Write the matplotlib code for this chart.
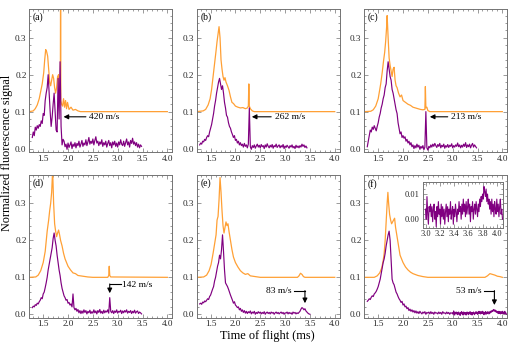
import numpy as np
import matplotlib
matplotlib.use("Agg")
import matplotlib.pyplot as plt
from matplotlib.ticker import MultipleLocator, FormatStrFormatter

plt.rcParams['font.family'] = ['Liberation Serif', 'DejaVu Serif']

ORANGE = '#ffa035'
PURPLE = '#800080'

# orange traces: (time, signal) pairs
orange_a = [(1.22, 0.100), (1.30, 0.102), (1.34, 0.108), (1.38, 0.118), (1.42, 0.135), (1.45, 0.155),
            (1.48, 0.175), (1.51, 0.205), (1.53, 0.240), (1.55, 0.268), (1.57, 0.262), (1.59, 0.250),
            (1.61, 0.215), (1.63, 0.180), (1.65, 0.170), (1.67, 0.185), (1.69, 0.200), (1.71, 0.190),
            (1.73, 0.165), (1.75, 0.150), (1.77, 0.165), (1.79, 0.195), (1.81, 0.200), (1.83, 0.125),
            (1.845, 0.130), (1.85, 0.500), (1.855, 0.130), (1.87, 0.120), (1.89, 0.115), (1.91, 0.135),
            (1.93, 0.112), (1.95, 0.130), (1.97, 0.108), (1.99, 0.125), (2.02, 0.106), (2.06, 0.112),
            (2.10, 0.104), (2.15, 0.106), (2.20, 0.102), (2.25, 0.100), (4.00, 0.100)]
orange_b = [(1.22, 0.100), (1.35, 0.102), (1.40, 0.106), (1.45, 0.118), (1.49, 0.135), (1.52, 0.160),
            (1.55, 0.195), (1.58, 0.230), (1.61, 0.265), (1.63, 0.290), (1.65, 0.310), (1.67, 0.330),
            (1.69, 0.300), (1.71, 0.240), (1.73, 0.215), (1.75, 0.195), (1.77, 0.185), (1.79, 0.192),
            (1.81, 0.180), (1.84, 0.170), (1.87, 0.158), (1.90, 0.140), (1.93, 0.125), (1.96, 0.122),
            (2.00, 0.115), (2.05, 0.112), (2.10, 0.110), (2.15, 0.111), (2.20, 0.108), (2.24, 0.110),
            (2.26, 0.115), (2.27, 0.175), (2.28, 0.115), (2.30, 0.108), (2.34, 0.102), (2.38, 0.100),
            (4.00, 0.100)]
orange_c = [(1.22, 0.100), (1.35, 0.101), (1.40, 0.105), (1.45, 0.115), (1.50, 0.135), (1.55, 0.175),
            (1.58, 0.205), (1.61, 0.240), (1.63, 0.260), (1.65, 0.290), (1.67, 0.330), (1.68, 0.360),
            (1.70, 0.300), (1.72, 0.245), (1.74, 0.225), (1.76, 0.210), (1.78, 0.195), (1.80, 0.215),
            (1.82, 0.220), (1.84, 0.185), (1.86, 0.170), (1.88, 0.165), (1.91, 0.150), (1.94, 0.140),
            (1.97, 0.145), (2.00, 0.130), (2.05, 0.125), (2.10, 0.120), (2.15, 0.117), (2.20, 0.112),
            (2.25, 0.110), (2.30, 0.108), (2.35, 0.106), (2.40, 0.105), (2.44, 0.106), (2.45, 0.168),
            (2.46, 0.110), (2.48, 0.112), (2.50, 0.103), (2.54, 0.100), (4.00, 0.100)]
orange_d = [(1.22, 0.100), (1.35, 0.101), (1.40, 0.106), (1.45, 0.118), (1.50, 0.140), (1.54, 0.170),
            (1.58, 0.225), (1.61, 0.255), (1.63, 0.280), (1.65, 0.300), (1.67, 0.330), (1.69, 0.390),
            (1.71, 0.300), (1.73, 0.245), (1.75, 0.225), (1.77, 0.210), (1.79, 0.220), (1.81, 0.228),
            (1.83, 0.215), (1.85, 0.200), (1.88, 0.185), (1.91, 0.165), (1.94, 0.150), (1.97, 0.140),
            (2.00, 0.130), (2.05, 0.120), (2.10, 0.112), (2.15, 0.110), (2.20, 0.105), (2.30, 0.103),
            (2.40, 0.101), (2.50, 0.100), (2.80, 0.100), (2.82, 0.105), (2.83, 0.130), (2.84, 0.105),
            (2.86, 0.101), (4.00, 0.100)]
orange_e = [(1.22, 0.100), (1.36, 0.101), (1.42, 0.106), (1.47, 0.118), (1.51, 0.135), (1.55, 0.165),
            (1.58, 0.190), (1.61, 0.215), (1.63, 0.255), (1.65, 0.265), (1.67, 0.310), (1.69, 0.370),
            (1.71, 0.330), (1.73, 0.280), (1.75, 0.240), (1.77, 0.220), (1.79, 0.235), (1.81, 0.250),
            (1.83, 0.240), (1.85, 0.245), (1.87, 0.225), (1.90, 0.200), (1.93, 0.175), (1.96, 0.155),
            (2.00, 0.140), (2.05, 0.128), (2.10, 0.118), (2.15, 0.112), (2.20, 0.108), (2.25, 0.110),
            (2.30, 0.104), (2.40, 0.102), (2.50, 0.100), (3.25, 0.100), (3.28, 0.104), (3.31, 0.111),
            (3.34, 0.108), (3.37, 0.102), (3.40, 0.100), (4.00, 0.100)]
orange_f = [(1.22, 0.100), (1.42, 0.100), (1.48, 0.104), (1.53, 0.112), (1.57, 0.125), (1.60, 0.145),
            (1.62, 0.165), (1.64, 0.200), (1.66, 0.250), (1.68, 0.300), (1.695, 0.330), (1.71, 0.300),
            (1.73, 0.270), (1.75, 0.255), (1.77, 0.245), (1.79, 0.250), (1.81, 0.255), (1.83, 0.260),
            (1.85, 0.235), (1.88, 0.210), (1.91, 0.185), (1.94, 0.160), (1.97, 0.150), (2.00, 0.140),
            (2.05, 0.128), (2.10, 0.120), (2.15, 0.114), (2.20, 0.110), (2.30, 0.105), (2.40, 0.102),
            (2.50, 0.100), (3.65, 0.100), (3.70, 0.104), (3.75, 0.110), (3.80, 0.108), (3.85, 0.106),
            (3.90, 0.103), (3.95, 0.102), (4.00, 0.100)]

# purple traces: samples every 0.02 ms starting at 1.28 ms
purple_start = 1.28
purple_step = 0.02
purple_a = [0.030, 0.045, 0.035, 0.058, 0.050, 0.062, 0.055, 0.065, 0.060, 0.075,
            0.068, 0.095, 0.090, 0.130, 0.150, 0.165, 0.200, 0.150, 0.100, 0.060,
            0.085, 0.120, 0.150, 0.100, 0.050, 0.045, 0.190, 0.080, 0.235, 0.060,
            0.010, 0.025, 0.020, 0.005, 0.012, -0.002, 0.015, 0.003, 0.010, 0.018,
            0.000, 0.012, 0.006, 0.016, 0.002, 0.014, 0.008, 0.020, 0.004, 0.012,
            0.022, 0.006, 0.015, 0.010, 0.024, 0.008, 0.018, 0.030, 0.012, 0.020,
            0.014, 0.026, 0.010, 0.022, 0.032, 0.015, 0.020, 0.008, 0.018, 0.012,
            0.024, 0.006, 0.016, 0.010, 0.020, 0.004, 0.014, 0.022, 0.008, 0.016,
            0.002, 0.018, 0.010, 0.020, 0.006, 0.015, 0.004, 0.018, 0.010, 0.024,
            0.012, 0.008, 0.020, 0.006, 0.016, 0.026, 0.010, 0.018, 0.004, 0.022,
            0.014, 0.028, 0.012, 0.018, 0.008, 0.016, 0.004, 0.012, 0.002, 0.010,
            0.006]
purple_b = [0.010, 0.015, 0.012, 0.020, 0.018, 0.025, 0.022, 0.030, 0.035, 0.032,
            0.045, 0.055, 0.065, 0.080, 0.095, 0.115, 0.130, 0.150, 0.165, 0.180,
            0.190, 0.175, 0.160, 0.170, 0.150, 0.125, 0.110, 0.090, 0.085, 0.070,
            0.060, 0.055, 0.045, 0.038, 0.030, 0.035, 0.022, 0.025, 0.015, 0.020,
            0.010, 0.016, 0.008, 0.012, 0.004, 0.014, 0.006, 0.010, 0.002, 0.012,
            0.110, 0.005, -0.002, 0.008, 0.003, 0.010, 0.001, 0.007, 0.012, 0.004,
            0.009, 0.002, 0.011, 0.005, 0.008, 0.000, 0.010, 0.004, 0.013, 0.006,
            0.002, 0.009, 0.004, 0.011, 0.001, 0.008, 0.005, 0.012, 0.003, 0.007,
            0.010, 0.002, 0.008, 0.004, 0.011, 0.000, 0.007, 0.003, 0.009, 0.005,
            0.001, 0.008, 0.004, 0.010, 0.002, 0.006, 0.000, 0.009, 0.003, 0.007,
            0.002, 0.008, 0.004, 0.012, 0.006, 0.010, 0.003, 0.007, 0.002]
purple_c = [0.005, 0.020, 0.035, 0.050, 0.045, 0.058, 0.052, 0.062, 0.055, 0.048,
            0.060, 0.070, 0.085, 0.095, 0.110, 0.120, 0.135, 0.145, 0.165, 0.175,
            0.210, 0.235, 0.215, 0.195, 0.185, 0.160, 0.150, 0.135, 0.120, 0.105,
            0.095, 0.070, 0.055, 0.040, 0.045, 0.030, 0.035, 0.028, 0.032, 0.020,
            0.025, 0.015, 0.020, 0.010, 0.016, 0.005, 0.010, 0.000, 0.008, 0.002,
            0.012, 0.004, 0.009, -0.002, 0.006, 0.001, 0.008, -0.003, 0.004, 0.100,
            0.002, -0.004, 0.006, 0.002, 0.010, 0.004, 0.012, 0.006, 0.014, 0.008,
            0.003, 0.011, 0.006, 0.014, 0.002, 0.009, 0.005, 0.012, 0.001, 0.008,
            0.004, 0.011, 0.003, 0.009, 0.006, 0.013, 0.002, 0.008, 0.004, 0.010,
            0.006, 0.015, 0.005, 0.010, 0.002, 0.009, 0.004, 0.012, 0.006, 0.016,
            0.003, 0.010, 0.005, 0.012, 0.002, 0.009, 0.014, 0.004, 0.010, 0.006,
            0.002]
purple_d = [0.018, 0.022, 0.020, 0.026, 0.024, 0.030, 0.028, 0.034, 0.038, 0.045,
            0.042, 0.055, 0.060, 0.072, 0.085, 0.100, 0.120, 0.135, 0.150, 0.165,
            0.180, 0.205, 0.220, 0.200, 0.185, 0.160, 0.140, 0.120, 0.105, 0.085,
            0.070, 0.060, 0.050, 0.045, 0.038, 0.040, 0.030, 0.032, 0.025, 0.028,
            0.020, 0.055, 0.018, 0.012, 0.016, 0.008, 0.013, 0.004, 0.010, 0.002,
            0.009, 0.003, 0.012, 0.005, 0.010, 0.001, 0.008, 0.004, 0.011, 0.002,
            0.007, 0.003, 0.012, 0.004, 0.009, 0.001, 0.010, 0.005, 0.013, 0.003,
            0.008, 0.002, 0.011, 0.004, 0.009, 0.006, 0.012, 0.003, 0.045, 0.008,
            0.004, 0.010, 0.002, 0.009, 0.005, 0.012, 0.003, 0.008, 0.006, 0.011,
            0.002, 0.009, 0.004, 0.010, 0.006, 0.012, 0.003, 0.008, 0.005, 0.010,
            0.002, 0.008, 0.004, 0.011, 0.003, 0.007, 0.009, 0.002, 0.006, 0.004,
            0.001]
purple_e = [0.028, 0.030, 0.027, 0.033, 0.031, 0.036, 0.034, 0.038, 0.042, 0.040,
            0.048, 0.052, 0.060, 0.068, 0.075, 0.090, 0.100, 0.115, 0.130, 0.140,
            0.160, 0.150, 0.175, 0.215, 0.170, 0.120, 0.085, 0.080, 0.075, 0.068,
            0.060, 0.052, 0.045, 0.038, 0.030, 0.034, 0.025, 0.022, 0.018, 0.020,
            0.012, 0.016, 0.008, 0.012, 0.005, 0.010, 0.003, 0.008, 0.002, 0.007,
            0.004, 0.009, 0.001, 0.006, 0.003, 0.008, 0.000, 0.005, 0.002, 0.007,
            0.003, 0.006, 0.001, 0.005, 0.002, 0.007, 0.000, 0.004, 0.006, 0.002,
            0.005, 0.001, 0.006, 0.003, 0.005, 0.000, 0.004, 0.006, 0.002, 0.005,
            0.001, 0.004, 0.006, 0.002, 0.005, 0.000, 0.004, 0.003, 0.006, 0.001,
            0.005, 0.002, 0.004, 0.000, 0.006, 0.003, 0.005, 0.001, 0.004, 0.002,
            0.005, 0.008, 0.014, 0.018, 0.016, 0.012, 0.015, 0.009, 0.006, 0.003,
            0.001, 0.000]
purple_f = [0.035, 0.038, 0.042, 0.040, 0.046, 0.050, 0.048, 0.055, 0.058, 0.062,
            0.068, 0.075, 0.085, 0.095, 0.110, 0.125, 0.140, 0.150, 0.165, 0.185,
            0.200, 0.215, 0.225, 0.200, 0.150, 0.095, 0.085, 0.080, 0.070, 0.060,
            0.055, 0.048, 0.042, 0.038, 0.032, 0.035, 0.025, 0.028, 0.020, 0.022,
            0.015, 0.018, 0.010, 0.014, 0.008, 0.012, 0.006, 0.010, 0.004, 0.009,
            0.003, 0.007, 0.002, 0.008, 0.004, 0.001, 0.006, 0.003, 0.007, 0.000,
            0.005, 0.003, 0.006, 0.001, 0.007, 0.002, 0.005, 0.000, 0.006, 0.003,
            0.004, 0.001, 0.006, 0.002, 0.005, 0.000, 0.007, 0.003, 0.004, 0.001,
            0.006, 0.002, 0.005, 0.000, 0.004, 0.003]
# late part of trace (f), finer samples every 0.01 ms from 3.00 ms (also shown in the inset)
tail_start = 3.00
tail_step = 0.01
purple_f_tail = [0.004, 0.000, 0.009, 0.002, -0.002, 0.005, 0.003, 0.006, 0.001, 0.005,
                 -0.001, 0.004, 0.006, 0.000, 0.003, -0.003, 0.005, 0.001, 0.007, 0.002,
                 0.004, -0.002, 0.006, 0.001, 0.005, 0.000, 0.004, -0.002, 0.003, 0.006,
                 0.001, 0.005, -0.001, 0.004, 0.002, 0.007, 0.000, 0.003, 0.005, -0.002,
                 0.004, 0.001, 0.006, 0.003, -0.001, 0.004, 0.002, 0.007, 0.003, 0.005,
                 0.000, 0.006, 0.002, 0.008, 0.003, 0.006, 0.001, 0.007, 0.002, 0.005,
                 0.008, 0.002, 0.006, -0.001, 0.005, 0.003, 0.007, 0.000, 0.004, 0.006,
                 0.002, 0.007, 0.004, 0.001, 0.006, 0.003, 0.008, 0.005, 0.009, 0.007,
                 0.010, 0.008, 0.013, 0.011, 0.009, 0.012, 0.007, 0.010, 0.006, 0.008,
                 0.004, 0.007, 0.002, 0.008, 0.003, 0.006, 0.001, 0.007, 0.004, 0.002,
                 0.008, 0.003, 0.006, 0.001, 0.005, 0.008, 0.002, 0.004, 0.000]

labels = ['(a)', '(b)', '(c)', '(d)', '(e)', '(f)']
speeds = ['420 m/s', '262 m/s', '213 m/s', '142 m/s', '83 m/s', '53 m/s']

W, H = 512, 347
lefts = [29.3, 196.7, 364.3]
tops = [9.3, 175.0]
pw, ph = 143.0, 142.6
ANN = 6.8


def style_axes(ax, ysteps, fmt_y, fmt_x, size):
    for s in ax.spines.values():
        s.set_color('0.45')
        s.set_linewidth(0.7)
    ax.tick_params(which='both', direction='in', top=True, right=True, colors='0.45',
                   labelcolor='0.15', labelsize=size, width=0.5, pad=2)
    ax.tick_params(which='major', length=3)
    ax.tick_params(which='minor', length=1.5)
    ax.yaxis.set_major_locator(MultipleLocator(ysteps[0]))
    ax.yaxis.set_minor_locator(MultipleLocator(ysteps[1]))
    ax.yaxis.set_major_formatter(FormatStrFormatter(fmt_y))
    ax.xaxis.set_major_formatter(FormatStrFormatter(fmt_x))


def draw_panel(i, orange, purple):
    row, col = divmod(i, 3)
    ax = fig.add_axes([lefts[col] / W, 1 - (tops[row] + ph) / H, pw / W, ph / H])
    ot, ov = zip(*orange)
    ax.plot(ot, ov, color=ORANGE, lw=0.9)
    pt = purple_start + purple_step * np.arange(len(purple))
    if i == 5:
        pt = np.concatenate([pt, tail_start + tail_step * np.arange(len(purple_f_tail))])
        purple = list(purple) + purple_f_tail
    ax.plot(pt, purple, color=PURPLE, lw=0.85)
    ax.set_xlim(1.22, 4.10)
    ax.set_ylim(-0.009, 0.377)
    ax.xaxis.set_major_locator(MultipleLocator(0.5))
    ax.xaxis.set_minor_locator(MultipleLocator(0.1))
    style_axes(ax, (0.1, 0.02), '%.1f', '%.1f', 6.6)
    ax.text(0.025, 0.975, labels[i], transform=ax.transAxes, ha='left', va='top', fontsize=7)
    return ax


fig = plt.figure(figsize=(W / 100, H / 100), dpi=100)
axes = [draw_panel(i, o, p) for i, (o, p) in enumerate(
    zip([orange_a, orange_b, orange_c, orange_d, orange_e, orange_f],
        [purple_a, purple_b, purple_c, purple_d, purple_e, purple_f]))]

arrow = dict(arrowstyle='-|>', color='black', lw=0.8, mutation_scale=7, shrinkA=0, shrinkB=0)

# top row: horizontal arrows pointing at the sharp peak
for ax, name, tip, tail in zip(axes[:3], speeds[:3], [1.91, 2.33, 2.54], [2.36, 2.72, 2.90]):
    ax.annotate('', xy=(tip, 0.086), xytext=(tail, 0.086), arrowprops=arrow)
    ax.text(tail + 0.07, 0.086, name, ha='left', va='center', fontsize=ANN)

# bottom row: elbow arrows pointing down onto the slow peak
ax = axes[3]
ax.plot([3.06, 2.84], [0.082, 0.082], color='black', lw=0.8)
ax.annotate('', xy=(2.84, 0.057), xytext=(2.84, 0.082), arrowprops=arrow)
ax.text(3.09, 0.080, speeds[3], ha='left', va='center', fontsize=ANN)

ax = axes[4]
ax.plot([3.17, 3.40], [0.064, 0.064], color='black', lw=0.8)
ax.annotate('', xy=(3.40, 0.030), xytext=(3.40, 0.064), arrowprops=arrow)
ax.text(3.13, 0.064, speeds[4], ha='right', va='center', fontsize=ANN)

ax = axes[5]
ax.plot([3.63, 3.84], [0.064, 0.064], color='black', lw=0.8)
ax.annotate('', xy=(3.84, 0.025), xytext=(3.84, 0.064), arrowprops=arrow)
ax.text(3.59, 0.064, speeds[5], ha='right', va='center', fontsize=ANN)

# inset of panel (f)
ins = fig.add_axes([422.7 / W, 1 - 227.5 / H, 80.5 / W, 46.0 / H])
ins.plot(tail_start + tail_step * np.arange(len(purple_f_tail)), purple_f_tail, color=PURPLE, lw=0.8)
ins.set_xlim(2.96, 4.09)
ins.set_ylim(-0.0033, 0.015)
ins.xaxis.set_major_locator(MultipleLocator(0.2))
ins.xaxis.set_minor_locator(MultipleLocator(0.05))
style_axes(ins, (0.01, 0.002), '%.2f', '%.1f', 6)

fig.text(0.0146, 0.558, 'Normalized fluorescence signal', rotation=90, ha='center', va='center', fontsize=8.8)
fig.text(0.523, 0.031, 'Time of flight (ms)', ha='center', va='center', fontsize=8.8)

fig.savefig('out.png', dpi=100)
